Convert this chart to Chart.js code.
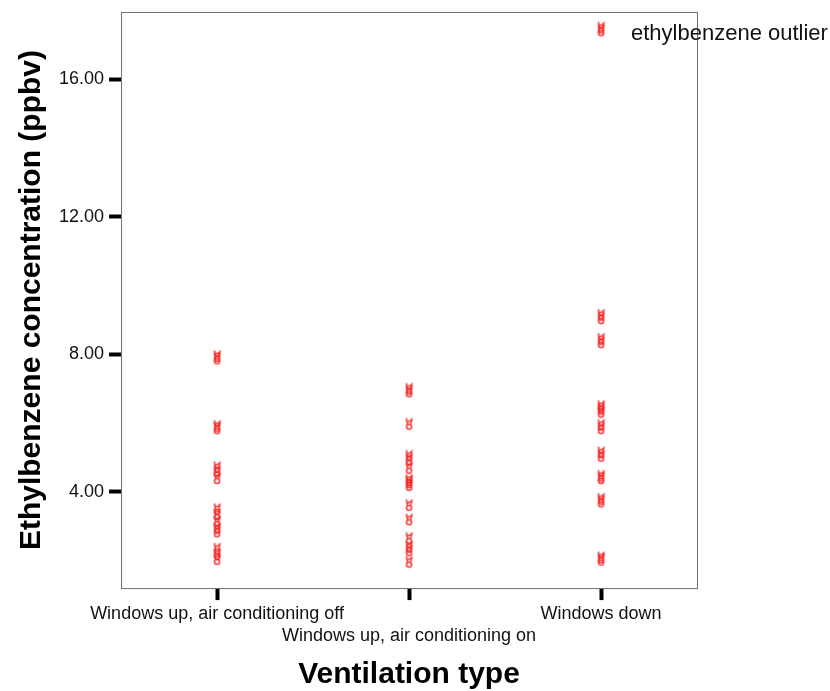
<!DOCTYPE html>
<html>
<head>
    <title>Ethylbenzene by ventilation type</title>
    <script src="https://cdn.jsdelivr.net/npm/chart.js"></script>
    <style>
        body { margin: 0; background: #fff; }
        .chart-container { width: 830px; height: 691px; }
    </style>
</head>
<body>
    <div class="chart-container">
        <canvas id="ventChart"></canvas>
    </div>

    <script>
        var categories = ['Windows up, air conditioning off', 'Windows up, air conditioning on', 'Windows down'];
        var yTicks = [4, 8, 12, 16];
        var acOff = [7.95, 7.88, 5.92, 5.85, 4.72, 4.6, 4.4, 3.5, 3.35, 3.15, 2.95, 2.85, 2.35, 2.2, 2.05];
        var acOn = [7.0, 6.92, 5.98, 5.05, 4.95, 4.7, 4.35, 4.28, 4.2, 3.62, 3.2, 2.66, 2.4, 2.3, 1.97];
        var winDown = [17.5, 17.42, 9.15, 9.05, 8.45, 8.35, 6.5, 6.42, 6.33, 5.95, 5.85, 5.15, 5.05, 4.47, 4.4, 3.8, 3.72, 2.1, 2.03];
        var outlierLabel = 'ethylbenzene outlier';

        // small red marker glyph (ring with two prongs)
        var marker = document.createElement('canvas');
        marker.width = 11; marker.height = 14;
        var m = marker.getContext('2d');
        m.strokeStyle = 'rgba(245,40,40,0.9)';
        m.lineWidth = 1.6;
        m.beginPath(); m.arc(5.5, 10, 2.5, 0, Math.PI * 2); m.stroke();
        m.beginPath(); m.moveTo(4, 7.8); m.lineTo(2.8, 1.5); m.stroke();
        m.beginPath(); m.moveTo(7, 7.8); m.lineTo(8.6, 1.5); m.stroke();
        m.beginPath(); m.moveTo(3.6, 5.2); m.lineTo(7.8, 3.6); m.stroke();

        function toPoints(cat, vals) {
            return vals.map(function (v) { return {x: cat, y: v}; });
        }

        var framePlugin = {
            id: 'frame',
            beforeDatasetsDraw: function (chart) {
                var a = chart.chartArea, c = chart.ctx;
                c.save();
                c.strokeStyle = '#707070';
                c.lineWidth = 1;
                c.strokeRect(a.left + 0.5, a.top + 0.5, a.right - a.left, a.bottom - a.top);
                c.restore();
            },
            afterDatasetsDraw: function (chart) {
                var pt = chart.getDatasetMeta(2).data[0];
                var c = chart.ctx;
                c.save();
                c.fillStyle = '#111';
                c.font = '22px "Liberation Sans", Arial, sans-serif';
                c.textBaseline = 'middle';
                c.fillText(outlierLabel, pt.x + 30, pt.y + 6);
                c.restore();
            }
        };

        var ds = [acOff, acOn, winDown].map(function (vals, i) {
            return {
                data: toPoints(categories[i], vals),
                showLine: false,
                pointStyle: marker,
                pointRadius: 5,
                pointHoverRadius: 5
            };
        });

        var ctx = document.getElementById('ventChart').getContext('2d');
        var ventChart = new Chart(ctx, {
            type: 'line',
            data: {labels: categories, datasets: ds},
            plugins: [framePlugin],
            options: {
                responsive: true,
                maintainAspectRatio: false,
                animation: false,
                layout: {padding: {top: 12, right: 133, bottom: -2, left: 14}},
                plugins: {legend: {display: false}, tooltip: {enabled: false}},
                scales: {
                    x: {
                        type: 'category',
                        offset: true,
                        grid: {offset: false, drawOnChartArea: false, tickLength: 12, tickWidth: 4, tickColor: '#000'},
                        border: {display: false},
                        ticks: {
                            color: '#111', padding: 3, maxRotation: 0, autoSkip: false,
                            font: {size: 18, family: '"Liberation Sans", Arial, sans-serif', lineHeight: 1.22},
                            callback: function (val, idx) {
                                return idx === 1 ? ['', categories[idx]] : categories[idx];
                            }
                        },
                        title: {
                            display: true, text: 'Ventilation type', color: '#000',
                            font: {size: 30, weight: 'bold', family: '"Liberation Sans", Arial, sans-serif'},
                            padding: {top: 7, bottom: 0}
                        }
                    },
                    y: {
                        min: 1.2, max: 17.95,
                        afterBuildTicks: function (axis) {
                            axis.ticks = yTicks.map(function (v) { return {value: v}; });
                        },
                        grid: {drawOnChartArea: false, tickLength: 12, tickWidth: 4, tickColor: '#000'},
                        border: {display: false},
                        ticks: {
                            color: '#111', padding: 5,
                            font: {size: 18, family: '"Liberation Sans", Arial, sans-serif', lineHeight: 0.6},
                            callback: function (v) { return Number(v).toFixed(2); }
                        },
                        title: {
                            display: true, text: 'Ethylbenzene concentration (ppbv)', color: '#000',
                            font: {size: 30, weight: 'bold', family: '"Liberation Sans", Arial, sans-serif'},
                            padding: {top: 0, bottom: 4}
                        }
                    }
                }
            }
        });
    </script>
</body>
</html>
